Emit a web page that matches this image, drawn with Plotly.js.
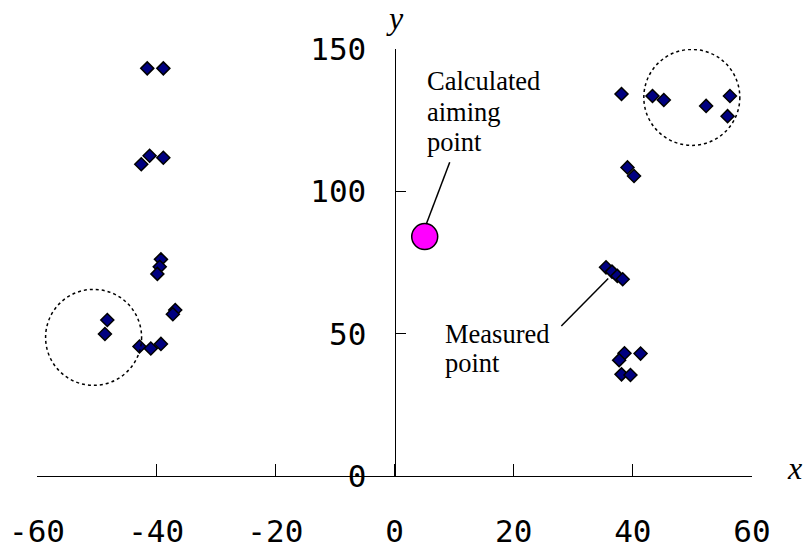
<!DOCTYPE html>
<html>
<head>
<meta charset="utf-8">
<script src="https://cdn.plot.ly/plotly-3.0.1.min.js"></script>
<style>html,body{margin:0;padding:0;background:#fff;}</style>
</head>
<body>
<div id="chart" style="width:806px;height:551px;"></div>
<script>
// Measured points (x, y)
const measuredX = [-41.5, -38.8, -42.5, -41.1, -38.8, -39.2, -39.4, -39.8, -48.2, -48.6, -42.8, -40.9, -39.2, -36.8, -37.2,
                   38.1, 43.3, 45.2, 52.3, 56.3, 55.9, 39.1, 40.2, 35.5, 36.5, 37.4, 38.3, 38.6, 41.3, 37.7, 38.1, 39.6];
const measuredY = [143.2, 143.2, 109.5, 112.5, 111.8, 76.1, 73.5, 71.0, 54.8, 49.9, 45.5, 44.8, 46.4, 58.3, 56.8,
                   134.2, 133.5, 132.1, 130.0, 133.5, 126.4, 108.4, 105.4, 73.3, 71.8, 70.3, 69.1, 43.1, 43.0, 40.7, 35.7, 35.5];
// Calculated aiming point
const aimX = [5.07];
const aimY = [84.1];
// Tick values
const xTicks = [-60, -40, -20, 0, 20, 40, 60];
const yTicks = [0, 50, 100, 150];
// Dotted cluster circles (centres)
const circleCX = [-50.5, 49.9];
const circleCY = [48.7, 133.0];
// Label lines
const aimLabel = ['Calculated', 'aiming', 'point'];
const measLabel = ['Measured', 'point'];

const serif = "'Liberation Serif', 'Times New Roman', serif";
const digi = "'DejaVu Sans Mono', monospace";

const traces = [
  {
    x: measuredX, y: measuredY, type: 'scatter', mode: 'markers',
    marker: {symbol: 'diamond', size: 10, color: '#000080', line: {color: '#000000', width: 1.5}},
    hoverinfo: 'skip', cliponaxis: false
  },
  {
    x: aimX, y: aimY, type: 'scatter', mode: 'markers',
    marker: {symbol: 'circle', size: 26, color: '#FF00FF', line: {color: '#000000', width: 1.5}},
    hoverinfo: 'skip', cliponaxis: false
  }
];

const shapes = circleCX.map((cx, i) => ({
  type: 'circle', xref: 'x', yref: 'y',
  xsizemode: 'pixel', ysizemode: 'pixel',
  xanchor: cx, yanchor: circleCY[i],
  x0: -48, x1: 48, y0: -48, y1: 48,
  line: {color: '#000000', width: 1.5, dash: 'dot'}
}));
// leader lines
shapes.push({type: 'line', xref: 'x', yref: 'y', x0: 9.27, y0: 110.2, x1: 5.34, y1: 88.5,
             line: {color: '#000000', width: 1.5}});
shapes.push({type: 'line', xref: 'x', yref: 'y', x0: 35.87, y0: 69.4, x1: 28.0, y1: 52.7,
             line: {color: '#000000', width: 1.5}});

const labelFont = {family: serif, size: 26.5, color: '#000'};
const aimLineY = [138.7, 127.9, 117.3];
const measLineY = [49.9, 39.7];
const annotations = [];
aimLabel.forEach((t, i) => annotations.push({
  x: 5.2, y: aimLineY[i], xref: 'x', yref: 'y', xanchor: 'left', yanchor: 'middle', align: 'left',
  text: t, showarrow: false, font: labelFont}));
measLabel.forEach((t, i) => annotations.push({
  x: 8.15, y: measLineY[i], xref: 'x', yref: 'y', xanchor: 'left', yanchor: 'middle', align: 'left',
  text: t, showarrow: false, font: labelFont}));
annotations.push({x: 0.5007, y: 1.072, xref: 'paper', yref: 'paper', xanchor: 'center', yanchor: 'middle',
   text: '<i>y</i>', showarrow: false, font: {family: serif, size: 32, color: '#000'}});
annotations.push({x: 1.060, y: 0.018, xref: 'paper', yref: 'paper', xanchor: 'center', yanchor: 'middle',
   text: '<i>x</i>', showarrow: false, font: {family: serif, size: 32, color: '#000'}});

const layout = {
  width: 806, height: 551, autosize: false,
  margin: {l: 37, r: 54, t: 49, b: 75, pad: 0},
  paper_bgcolor: '#ffffff', plot_bgcolor: '#ffffff',
  showlegend: false,
  xaxis: {
    range: [-60, 60], tickmode: 'array', tickvals: xTicks, ticktext: xTicks.map(String),
    showgrid: false, zeroline: false, showline: true, linecolor: '#000', linewidth: 1,
    ticks: 'inside', ticklen: 12, tickcolor: '#000', tickwidth: 1,
    ticklabelstandoff: 28,
    tickfont: {family: digi, size: 31, color: '#000'}
  },
  yaxis: {
    range: [0, 150], tickmode: 'array', tickvals: yTicks, ticktext: yTicks.map(String),
    anchor: 'free', position: 0.5, side: 'left',
    showgrid: false, zeroline: false, showline: true, linecolor: '#000', linewidth: 1,
    ticks: 'inside', ticklen: 10, tickcolor: '#000', tickwidth: 1,
    ticklabelstandoff: 22,
    tickfont: {family: digi, size: 31, color: '#000'}
  },
  shapes: shapes,
  annotations: annotations
};

Plotly.newPlot('chart', traces, layout, {staticPlot: true, displayModeBar: false});
</script>
</body>
</html>
